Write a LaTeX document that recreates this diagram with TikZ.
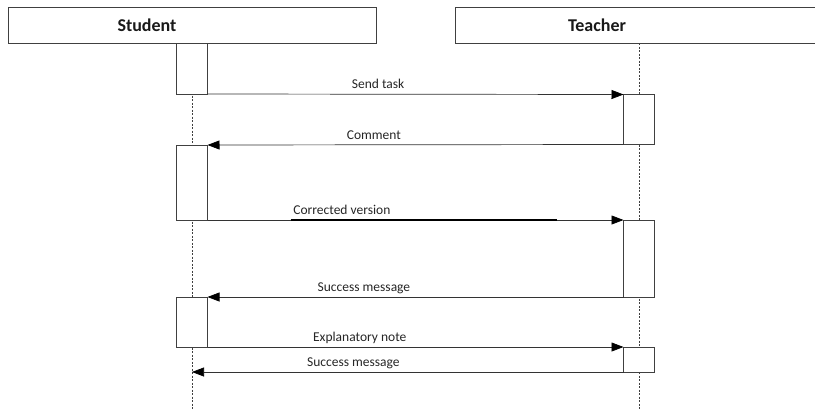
\documentclass[tikz,border=0pt]{standalone}
\usepackage{fontspec}
\setmainfont{Carlito}
\usetikzlibrary{arrows.meta}

\begin{document}
\begin{tikzpicture}[x=1pt,y=-1pt,>={Triangle[length=12pt,width=9pt,color=black]},
    head/.style={draw=black!75,line width=0.8pt,fill=white,minimum width=368pt,
      minimum height=36pt,inner sep=0pt,outer sep=0pt},
    act/.style={draw=black!75,line width=0.8pt,fill=white,minimum width=31pt,
      inner sep=0pt,outer sep=0pt},
    msg/.style={->,draw=black!80,line width=0.7pt},
    lbl/.style={anchor=base,yshift=5.5pt,font=\fontsize{13.5}{15}\selectfont,text=black!85},
    life/.style={dash pattern=on 2pt off 1.5pt,draw=black!75,line width=0.7pt}]
  \useasboundingbox (0,0) rectangle (815,410);

  % lifelines
  \coordinate (send) at (192,410); \coordinate (tend) at (639,410);
  \draw[life] (192,43) -- (send);
  \draw[life] (639,43) -- (tend);

  % headers
  \node[head] (student) at (192,25) {};
  \node[head] (teacher) at (639,25) {};
  \node[font=\bfseries\fontsize{18}{20}\selectfont,text=black!90] at ([xshift=-45pt]student.center) {Student};
  \node[font=\bfseries\fontsize{18}{20}\selectfont,text=black!90] at ([xshift=-42pt]teacher.center) {Teacher};

  % activations
  \node[act,minimum height=51pt] (s1) at (192,68.5) {};
  \node[act,minimum height=50pt] (t1) at (639,119.5) {};
  \node[act,minimum height=75pt] (s2) at (192,182.5) {};
  \node[act,minimum height=77pt] (t2) at (639,258.5) {};
  \node[act,minimum height=50pt] (s3) at (192,322) {};
  \node[act,minimum height=25pt] (t3) at (639,359.5) {};
  \coordinate (ret) at (s3.south |- t3.south west);

  % messages
  \draw[msg] (s1.south east) -- node[lbl,pos=0.41] {Send task} (t1.north west);
  \draw[msg] (t1.south west) -- node[lbl,pos=0.6] {Comment} (s2.north east);
  \draw[msg] (s2.south east) -- coordinate[pos=0.2] (cv1) coordinate[pos=0.84] (cv2)
    node[lbl,pos=0.323] {Corrected version} (t2.north west);
  \draw[line width=1.6pt] (cv1) -- (cv2);
  \draw[msg] (t2.south west) -- node[lbl,pos=0.624] {Success message} (s3.north east);
  \draw[msg] (s3.south east) -- node[lbl,pos=0.366] {Explanatory note} (t3.north west);
  \draw[msg] (t3.south west) -- node[lbl,pos=0.626] {Success message} (ret);

\end{tikzpicture}
\end{document}
